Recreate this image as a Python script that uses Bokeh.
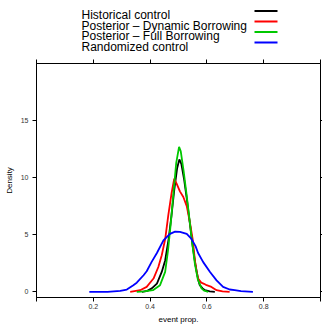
from bokeh.plotting import figure
from bokeh.layouts import column
from bokeh.models import Range1d, LinearAxis, FixedTicker, CustomLabelingPolicy
from bokeh.core.properties import value
from bokeh.embed import file_html
from bokeh.resources import INLINE

# ---- data ----
series_names = ["Historical control", "Posterior \u2013 Dynamic Borrowing",
                "Posterior \u2013 Full Borrowing", "Randomized control"]
series_colors = ["#000000", "#FF0000", "#00C800", "#0000FF"]

hist_x = [0.371, 0.39, 0.406, 0.424, 0.441, 0.453, 0.465, 0.475, 0.485, 0.495,
          0.503, 0.51, 0.52, 0.53, 0.54, 0.55, 0.56, 0.57, 0.575, 0.585,
          0.593, 0.61, 0.628]
hist_y = [0.0, 0.08, 0.3, 0.72, 1.74, 2.75, 4.6, 6.6, 8.9, 10.8,
          11.6, 11.2, 9.8, 8.0, 6.0, 4.0, 2.3, 1.0, 0.58, 0.3,
          0.14, 0.03, 0.0]

dyn_x = [0.33, 0.365, 0.388, 0.412, 0.429, 0.441, 0.453, 0.464, 0.476, 0.485,
         0.493, 0.505, 0.517, 0.529, 0.54, 0.55, 0.558, 0.564, 0.569, 0.58,
         0.59, 0.599, 0.616, 0.634, 0.655, 0.68]
dyn_y = [0.0, 0.14, 0.43, 1.16, 2.17, 3.2, 4.6, 6.7, 8.7, 9.9,
         9.5, 8.8, 8.3, 7.5, 6.1, 4.6, 2.7, 1.74, 1.16, 0.8,
         0.7, 0.58, 0.43, 0.14, 0.03, 0.0]

full_x = [0.353, 0.38, 0.41, 0.435, 0.453, 0.463, 0.472, 0.482, 0.492, 0.502,
          0.508, 0.518, 0.528, 0.538, 0.548, 0.558, 0.568, 0.581, 0.59, 0.605]
full_y = [0.0, 0.03, 0.14, 0.58, 1.74, 3.6, 5.8, 8.6, 11.3, 12.7,
          12.3, 10.6, 8.6, 6.5, 4.3, 2.4, 1.1, 0.3, 0.1, 0.0]

rand_x = [0.186, 0.25, 0.295, 0.318, 0.341, 0.353, 0.377, 0.388, 0.405, 0.424,
          0.447, 0.47, 0.488, 0.505, 0.529, 0.545, 0.56, 0.569, 0.587, 0.611,
          0.634, 0.657, 0.68, 0.698, 0.72, 0.762]
rand_y = [0.0, 0.0, 0.08, 0.2, 0.58, 0.8, 1.45, 1.8, 2.6, 3.4,
          4.5, 5.07, 5.27, 5.25, 5.07, 4.65, 4.0, 3.4, 2.6, 1.74,
          1.0, 0.43, 0.2, 0.14, 0.05, 0.0]

x_ticks = [0.0, 0.2, 0.4, 0.6, 0.8, 1.0]
x_tick_labels = ["", "0.2", "0.4", "0.6", "0.8", ""]
y_ticks = [0, 5, 10, 15]
y_tick_labels = ["0", "5", "10", "15"]

FONT = "Liberation Sans"
BORDER_L, BORDER_R = 36, 2

# ---- legend (key above the panel), drawn in pixel space of the page ----
leg = figure(width=322, height=56, x_range=Range1d(BORDER_L, 322 - BORDER_R),
             y_range=Range1d(56, 0),
             x_axis_type=None, y_axis_type=None, output_backend="svg",
             toolbar_location=None, min_border_left=BORDER_L, min_border_right=BORDER_R,
             min_border_top=0, min_border_bottom=0)
leg.outline_line_color = None
leg.grid.visible = False
leg_text_y = [14.7, 25.2, 35.7, 46.2]
leg_line_y = [10.5, 21.0, 31.5, 42.0]
leg.text(x=[81] * 4, y=leg_text_y, text=series_names,
         text_font=value(FONT), text_font_size="12px",
         text_baseline="alphabetic", text_align="left", text_color="#000000")
leg.segment(x0=[254] * 4, x1=[277] * 4, y0=leg_line_y, y1=leg_line_y,
            line_color=series_colors, line_width=2)

# ---- main panel ----
p = figure(width=322, height=270, x_range=Range1d(0, 1), y_range=Range1d(-0.5, 20),
           output_backend="svg", toolbar_location=None,
           min_border_left=BORDER_L, min_border_right=BORDER_R,
           min_border_top=7, min_border_bottom=27,
           x_axis_label="event prop.", y_axis_label="Density")
p.grid.visible = False
p.outline_line_color = "#000000"
p.outline_line_width = 1

for xs, ys, c in zip([hist_x, dyn_x, full_x, rand_x],
                     [hist_y, dyn_y, full_y, rand_y], series_colors):
    p.line(xs, ys, line_color=c, line_width=1.8)

xb = p.xaxis[0]
xb.ticker = FixedTicker(ticks=x_ticks)
xb.major_label_overrides = {t: l for t, l in zip(x_ticks, x_tick_labels)}
yl = p.yaxis[0]
yl.ticker = FixedTicker(ticks=y_ticks)
yl.major_label_overrides = {t: l for t, l in zip(y_ticks, y_tick_labels)}

for ax in (xb, yl):
    ax.major_tick_out = 4
    ax.major_tick_in = 0
    ax.minor_tick_out = 0
    ax.minor_tick_in = 0
    ax.axis_line_color = "#000000"
    ax.major_tick_line_color = "#000000"
    ax.major_label_text_font = FONT
    ax.major_label_text_font_size = "7px"
    ax.major_label_text_color = "#333333"
    ax.axis_label_text_font = FONT
    ax.axis_label_text_font_size = "8px"
    ax.axis_label_text_font_style = "normal"
    ax.axis_label_text_color = "#000000"
xb.major_label_standoff = 2
xb.axis_label_standoff = 3
yl.major_label_standoff = 4
yl.axis_label_standoff = 4

no_labels = CustomLabelingPolicy(code="return new Set()")
top_ax = LinearAxis(ticker=FixedTicker(ticks=x_ticks), major_tick_out=4, major_tick_in=0,
                    minor_tick_out=0, minor_tick_in=0, major_label_text_font_size="0px",
                    major_label_standoff=0, axis_line_color="#000000",
                    major_label_policy=no_labels)
right_ax = LinearAxis(ticker=FixedTicker(ticks=y_ticks), major_tick_out=2, major_tick_in=0,
                      minor_tick_out=0, minor_tick_in=0, major_label_text_font_size="0px",
                      major_label_standoff=0, axis_line_color="#000000",
                      major_label_policy=CustomLabelingPolicy(code="return new Set()"))
p.add_layout(top_ax, "above")
p.add_layout(right_ax, "right")

layout = column(leg, p)

open("out.html", "w").write(file_html(layout, INLINE))
